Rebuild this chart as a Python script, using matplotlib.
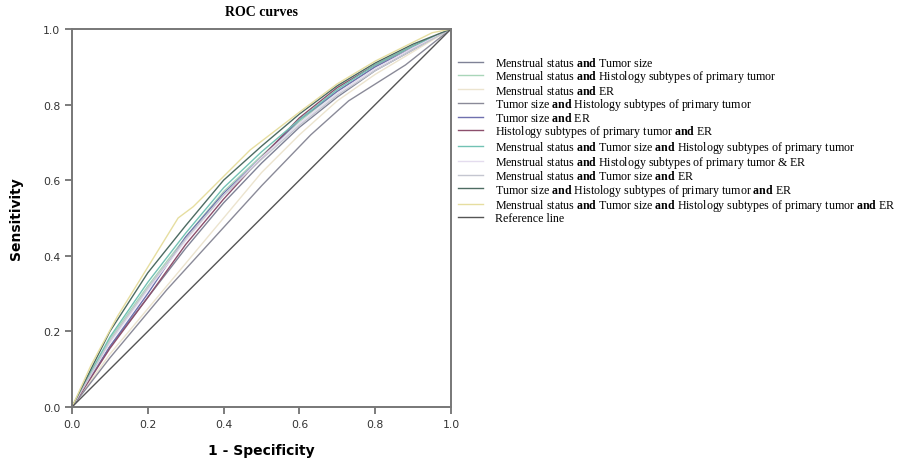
import matplotlib
matplotlib.use("Agg")
import matplotlib.pyplot as plt

plt.rcParams["mathtext.fontset"] = "custom"
plt.rcParams["mathtext.rm"] = "Liberation Serif"
plt.rcParams["mathtext.bf"] = "Liberation Serif:bold"

AND = r"$\mathbf{and}$"

labels = [
    f"Menstrual status {AND} Tumor size",
    f"Menstrual status {AND} Histology subtypes of primary tumor",
    f"Menstrual status {AND} ER",
    f"Tumor size {AND} Histology subtypes of primary tumor",
    f"Tumor size {AND} ER",
    f"Histology subtypes of primary tumor {AND} ER",
    f"Menstrual status {AND} Tumor size {AND} Histology subtypes of primary tumor",
    f"Menstrual status {AND} Histology subtypes of primary tumor & ER",
    f"Menstrual status {AND} Tumor size {AND} ER",
    f"Tumor size {AND} Histology subtypes of primary tumor {AND} ER",
    f"Menstrual status {AND} Tumor size {AND} Histology subtypes of primary tumor {AND} ER",
    "Reference line",
]

colors = ["#7f8296", "#a9d6b9", "#ece4cf", "#8a8a98", "#6f70ae", "#8c4f6c",
          "#72c2b4", "#e4dcee", "#c4c6d0", "#4d6b62", "#e6dea0", "#555555"]

grid = [0, 0.1, 0.2, 0.3, 0.4, 0.5, 0.6, 0.7, 0.8, 0.9, 1.0]

fpr = [
    grid,
    grid,
    grid,
    [0, 0.1, 0.25, 0.5, 0.63, 0.73, 0.88, 1.0],
    grid,
    grid,
    grid,
    grid,
    grid,
    grid,
    [0, 0.05, 0.12, 0.2, 0.28, 0.32, 0.4, 0.47, 0.6, 0.7, 0.8, 0.9, 0.95, 1.0],
    [0, 1.0],
]

tpr = [
    [0, 0.16, 0.29, 0.42, 0.54, 0.645, 0.74, 0.82, 0.89, 0.945, 1.0],
    [0, 0.18, 0.32, 0.45, 0.57, 0.665, 0.755, 0.835, 0.90, 0.955, 1.0],
    [0, 0.14, 0.26, 0.38, 0.50, 0.62, 0.72, 0.81, 0.88, 0.94, 1.0],
    [0, 0.13, 0.31, 0.585, 0.72, 0.81, 0.905, 1.0],
    [0, 0.16, 0.30, 0.45, 0.565, 0.66, 0.76, 0.835, 0.90, 0.95, 1.0],
    [0, 0.155, 0.29, 0.43, 0.55, 0.66, 0.765, 0.845, 0.905, 0.955, 1.0],
    [0, 0.185, 0.33, 0.46, 0.58, 0.675, 0.76, 0.84, 0.905, 0.955, 1.0],
    [0, 0.17, 0.31, 0.44, 0.56, 0.66, 0.75, 0.83, 0.895, 0.95, 1.0],
    [0, 0.175, 0.315, 0.445, 0.56, 0.655, 0.745, 0.825, 0.89, 0.945, 1.0],
    [0, 0.20, 0.355, 0.48, 0.60, 0.69, 0.775, 0.85, 0.91, 0.96, 1.0],
    [0, 0.11, 0.24, 0.37, 0.50, 0.53, 0.61, 0.68, 0.78, 0.855, 0.915, 0.965, 0.99, 1.0],
    [0, 1.0],
]

ticks = [0.0, 0.2, 0.4, 0.6, 0.8, 1.0]

fig = plt.figure(figsize=(9.09, 4.6), dpi=100)
ax = fig.add_axes([72 / 909, 1 - 408 / 460, 379 / 909, 378 / 460])

lines = []
for x, y, c, lab in zip(fpr, tpr, colors, labels):
    (ln,) = ax.plot(x, y, color=c, linewidth=1.0, label=lab)
    lines.append(ln)

ax.set_xlim(0, 1)
ax.set_ylim(0, 1)
ax.set_xticks(ticks)
ax.set_yticks(ticks)
ax.set_xticklabels([f"{t:.1f}" for t in ticks])
ax.set_yticklabels([f"{t:.1f}" for t in ticks])
ax.tick_params(direction="out", length=5, width=1.2, color="#666666",
               labelsize=7.8, labelcolor="#333333")
for sp in ax.spines.values():
    sp.set_color("#777777")
    sp.set_linewidth(1.4)

ax.set_title("ROC curves", fontfamily="Liberation Serif", fontweight="bold",
             fontsize=10, pad=10)
ax.set_xlabel("1 - Specificity", fontweight="bold", fontsize=10, labelpad=10)
ax.set_ylabel("Sensitivity", fontweight="bold", fontsize=10, labelpad=14)

fig.legend(handles=lines, loc="upper left", bbox_to_anchor=(458 / 909, 1 - 57 / 460),
           frameon=False, prop={"family": "Liberation Serif", "size": 8.6},
           handlelength=2.1, handletextpad=1.0, labelspacing=-0.06, borderpad=0,
           borderaxespad=0)

fig.savefig("out.png", dpi=100)
